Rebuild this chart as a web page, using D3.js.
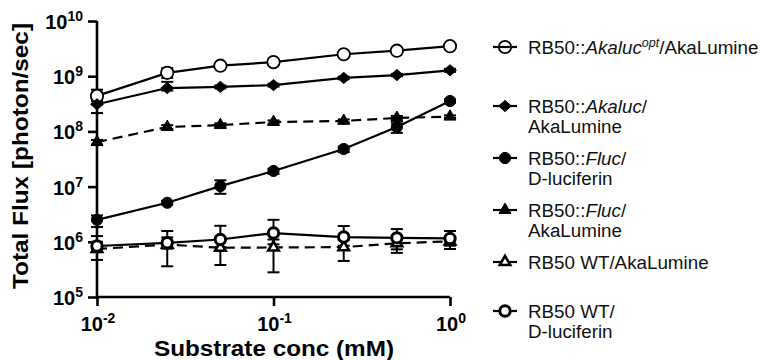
<!DOCTYPE html>
<html><head><meta charset="utf-8">
<script src="https://cdn.jsdelivr.net/npm/d3@7"></script>
<style>body{margin:0;background:#fff}svg{display:block}</style>
</head><body>
<svg id="c" width="761" height="360"></svg>
<script>
// ---- data ----
const conc = [0.01, 0.025, 0.05, 0.1, 0.25, 0.5, 1];
const akalucOpt   = [4.4e8, 1.15e9, 1.55e9, 1.8e9, 2.5e9, 2.9e9, 3.5e9];
const akalucOptLo = [3.5e8, 9.3e8, 1.45e9, 1.7e9, 2.35e9, 2.75e9, 3.3e9];
const akalucOptHi = [5.7e8, 1.4e9, 1.65e9, 1.9e9, 2.65e9, 3.05e9, 3.7e9];
const akaluc   = [3.1e8, 6.1e8, 6.4e8, 6.9e8, 9.3e8, 1.05e9, 1.28e9];
const akalucLo = [2.15e8, 5.5e8, 6.0e8, 6.5e8, 8.8e8, 1.0e9, 1.2e9];
const akalucHi = [3.6e8, 7.9e8, 6.8e8, 7.3e8, 9.8e8, 1.1e9, 1.36e9];
const flucDluc   = [2.5e6, 5.1e6, 1.02e7, 1.92e7, 4.8e7, 1.2e8, 3.55e8];
const flucDlucLo = [1.85e6, 4.7e6, 7.4e6, 1.7e7, 4.2e7, 9.4e7, 3.3e8];
const flucDlucHi = [3.0e6, 5.5e6, 1.3e7, 2.1e7, 5.3e7, 1.4e8, 3.8e8];
const flucAka   = [6.4e7, 1.2e8, 1.3e8, 1.48e8, 1.55e8, 1.75e8, 1.85e8];
const flucAkaLo = [5.8e7, 1.1e8, 1.2e8, 1.38e8, 1.45e8, 1.6e8, 1.75e8];
const flucAkaHi = [7.0e7, 1.3e8, 1.4e8, 1.58e8, 1.65e8, 1.9e8, 1.95e8];
const wtAka   = [7.4e5, 8.9e5, 7.8e5, 7.9e5, 8.0e5, 9.4e5, 1.02e6];
const wtAkaLo = [4.7e5, 3.6e5, 3.8e5, 2.8e5, 4.5e5, 6.3e5, 7.4e5];
const wtAkaHi = [1.0e6, 1.2e6, 1.1e6, 1.1e6, 1.1e6, 1.1e6, 1.2e6];
const wtDluc   = [8.4e5, 9.6e5, 1.1e6, 1.44e6, 1.22e6, 1.18e6, 1.15e6];
const wtDlucLo = [6.5e5, 7.5e5, 8.0e5, 9.0e5, 8.5e5, 7.3e5, 8.5e5];
const wtDlucHi = [1.27e6, 1.57e6, 1.95e6, 2.5e6, 1.93e6, 1.7e6, 1.57e6];

const yTickExps = [5, 6, 7, 8, 9, 10];
const xTickExps = [-2, -1, 0];
const xTitle = "Substrate conc (mM)";
const yTitle = "Total Flux [photon/sec]";

const legendLabels = [
  [[{t:"RB50::"},{t:"Akaluc",i:1},{t:"opt",i:1,sup:1},{t:"/AkaLumine"}]],
  [[{t:"RB50::"},{t:"Akaluc",i:1},{t:"/"}],[{t:"AkaLumine"}]],
  [[{t:"RB50::"},{t:"Fluc",i:1},{t:"/"}],[{t:"D-luciferin"}]],
  [[{t:"RB50::"},{t:"Fluc",i:1},{t:"/"}],[{t:"AkaLumine"}]],
  [[{t:"RB50 WT/AkaLumine"}]],
  [[{t:"RB50 WT/"}],[{t:"D-luciferin"}]]
];

const series = [
  {v: akalucOpt, lo: akalucOptLo, hi: akalucOptHi, sym: "circle", fill: "#fff", sw: 1.8, r: 6.2, dash: null, legFill: "none"},
  {v: akaluc, lo: akalucLo, hi: akalucHi, sym: "diamond", fill: "#000", sw: 1, r: 6, dash: null},
  {v: flucDluc, lo: flucDlucLo, hi: flucDlucHi, sym: "circle", fill: "#000", sw: 1, r: 5.6, dash: null},
  {v: flucAka, lo: flucAkaLo, hi: flucAkaHi, sym: "triangle", fill: "#000", sw: 1, r: 62, dash: "10,6"},
  {v: wtAka, lo: wtAkaLo, hi: wtAkaHi, sym: "triangle", fill: "#fff", sw: 2.6, r: 48, dash: "10,6"},
  {v: wtDluc, lo: wtDlucLo, hi: wtDlucHi, sym: "circle", fill: "#fff", sw: 3, r: 5.2, dash: null}
];

// ---- chart ----
const svg = d3.select("#c");
const FONT = "'Liberation Sans', Arial, Helvetica, sans-serif";
const x = d3.scaleLog().domain([0.01, 1]).range([97, 450]);
const y = d3.scaleLog().domain([1e5, 1e10]).range([297, 21]);

function symPath(s) {
  if (s.sym === "circle") return d3.symbol(d3.symbolCircle, Math.PI * s.r * s.r)();
  if (s.sym === "diamond") return "M0,-5.6L6.4,0L0,5.6L-6.4,0Z";
  return d3.symbol(d3.symbolTriangle, s.r)();
}

// axes
const yAxis = d3.axisLeft(y).tickValues(yTickExps.map(e => Math.pow(10, e))).tickSize(9).tickSizeOuter(0).tickFormat("");
const gy = svg.append("g").attr("transform", "translate(97,0)").call(yAxis);
const xAxis = d3.axisBottom(x).tickValues(xTickExps.map(e => Math.pow(10, e))).tickSize(9).tickSizeOuter(0).tickFormat("");
const gx = svg.append("g").attr("transform", "translate(0,297)").call(xAxis);
[gx, gy].forEach(g => {
  g.selectAll("path.domain").attr("stroke", "#000").attr("stroke-width", 2.6);
  g.selectAll(".tick line").attr("stroke", "#000").attr("stroke-width", 2.6);
});
gy.select("path.domain").attr("d", `M0,${y(1e10)}V${y(1e5) + 1.3}`);
gx.select("path.domain").attr("d", `M${x(0.01) - 1.3},0H${x(1)}`);

// tick labels
yTickExps.forEach(e => {
  const t = svg.append("text").attr("x", 83).attr("y", y(Math.pow(10, e)) + 8)
    .attr("text-anchor", "end").attr("font-family", FONT).attr("font-weight", "bold").attr("font-size", 20);
  t.append("tspan").text("10");
  t.append("tspan").attr("dy", -8).attr("font-size", 14).text(String(e));
});
xTickExps.forEach(e => {
  const t = svg.append("text").attr("x", x(Math.pow(10, e)) + 1).attr("y", 331)
    .attr("text-anchor", "middle").attr("font-family", FONT).attr("font-weight", "bold").attr("font-size", 20);
  t.append("tspan").text("10");
  t.append("tspan").attr("dy", -8).attr("font-size", 14).text(String(e));
});

// titles
svg.append("text").attr("x", 274).attr("y", 356).attr("text-anchor", "middle")
  .attr("font-family", FONT).attr("font-weight", "bold").attr("font-size", 22)
  .attr("textLength", 240).attr("lengthAdjust", "spacingAndGlyphs").text(xTitle);
svg.append("text").attr("transform", "translate(28,156) rotate(-90)").attr("text-anchor", "middle")
  .attr("font-family", FONT).attr("font-weight", "bold").attr("font-size", 22)
  .attr("textLength", 266).attr("lengthAdjust", "spacingAndGlyphs").text(yTitle);

// lines
const line = d3.line().x(d => x(d[0])).y(d => y(d[1]));
series.forEach(s => {
  svg.append("path").attr("d", line(conc.map((c, i) => [c, s.v[i]])))
    .attr("fill", "none").attr("stroke", "#000").attr("stroke-width", 2.2)
    .attr("stroke-dasharray", s.dash);
});
// error bars
series.forEach(s => {
  const g = svg.append("g").attr("stroke", "#000").attr("stroke-width", 2);
  conc.forEach((c, i) => {
    const cx = x(c);
    g.append("line").attr("x1", cx).attr("x2", cx).attr("y1", y(s.lo[i])).attr("y2", y(s.hi[i]));
    [s.lo[i], s.hi[i]].forEach(v => g.append("line").attr("x1", cx - 6).attr("x2", cx + 6).attr("y1", y(v)).attr("y2", y(v)));
  });
});
// markers
series.forEach(s => {
  const p = symPath(s);
  conc.forEach((c, i) => {
    svg.append("path").attr("d", p).attr("transform", `translate(${x(c)},${y(s.v[i])})`)
      .attr("fill", s.fill).attr("stroke", "#000").attr("stroke-width", s.sw);
  });
});

// legend
const legY = [47, 106, 158, 210, 262, 311];
legendLabels.forEach((lines, k) => {
  const s = series[k];
  const cy = legY[k];
  svg.append("line").attr("x1", 493).attr("x2", 517).attr("y1", cy).attr("y2", cy)
    .attr("stroke", "#000").attr("stroke-width", 2.2);
  svg.append("path").attr("d", symPath(s)).attr("transform", `translate(505,${cy})`)
    .attr("fill", s.legFill || s.fill).attr("stroke", "#000").attr("stroke-width", s.sw);
  lines.forEach((segs, li) => {
    const t = svg.append("text").attr("x", 528).attr("y", cy + 6.5 + li * 20)
      .attr("font-family", FONT).attr("font-size", 18.8).attr("fill", "#111");
    let sup = false;
    segs.forEach(sg => {
      const ts = t.append("tspan").text(sg.t).attr("font-style", sg.i ? "italic" : null);
      if (sg.sup) { ts.attr("dy", -7).attr("font-size", 12.5); sup = true; }
      else if (sup) { ts.attr("dy", 7); sup = false; }
    });
  });
});
</script>
</body></html>
